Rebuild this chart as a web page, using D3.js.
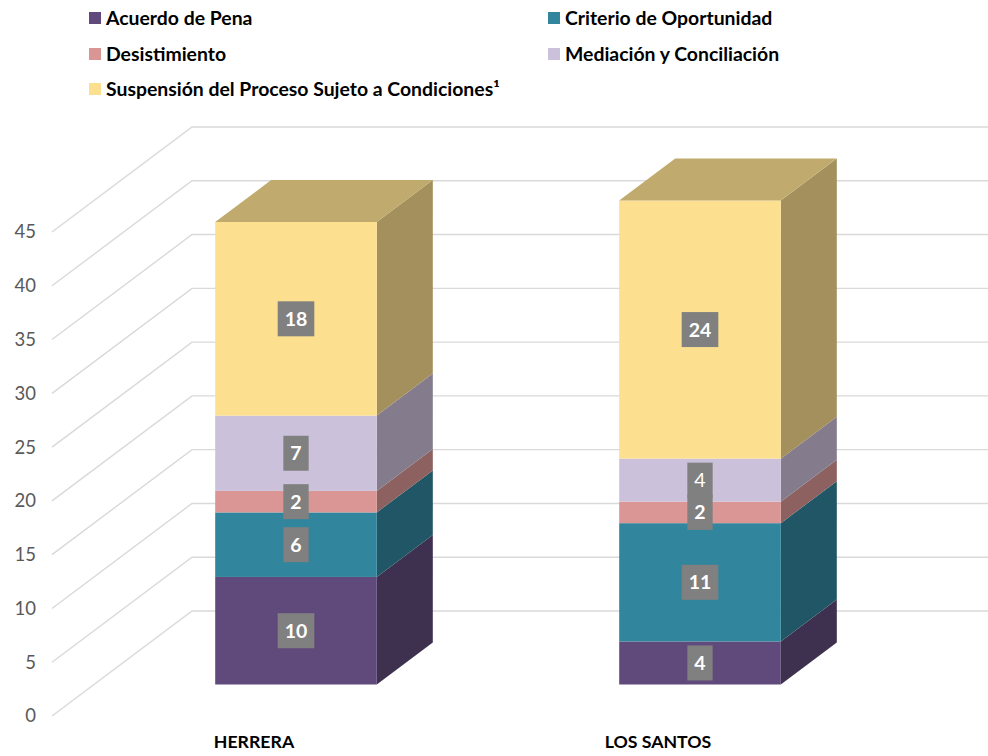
<!DOCTYPE html>
<html>
<head>
<meta charset="utf-8">
<script src="https://cdn.jsdelivr.net/npm/d3@7"></script>
<style>
  html, body { margin: 0; padding: 0; background: #ffffff; }
  svg { display: block; font-family: Lato, "Open Sans", sans-serif; }
</style>
</head>
<body>
<svg id="chart" width="988" height="756"></svg>
<script>
// ---- data ----
const categories = ["HERRERA", "LOS SANTOS"];
const seriesNames = [
  "Acuerdo de Pena",
  "Criterio de Oportunidad",
  "Desistimiento",
  "Mediación y Conciliación",
  "Suspensión del Proceso Sujeto a Condiciones¹"
];
const acuerdoDePena = [10, 4];
const criterioDeOportunidad = [6, 11];
const desistimiento = [2, 2];
const mediacionYConciliacion = [7, 4];
const suspensionDelProceso = [18, 24];
const yTicks = [0, 5, 10, 15, 20, 25, 30, 35, 40, 45];
const seriesColors = ["#604A7B", "#31859C", "#D99694", "#CCC1DA", "#FCE08F"];

const seriesValues = [acuerdoDePena, criterioDeOportunidad, desistimiento, mediacionYConciliacion, suspensionDelProceso];

// ---- layout ----
const svg = d3.select("#chart");
const W = 988;
const depthX = 140, depthY = 105;        // full floor depth
const barFront = 0.3, barBack = 0.7;      // bar position within depth

const x = d3.scaleBand().domain(categories).range([52, 860]).paddingInner(0.6).paddingOuter(0.3);
const y = d3.scaleLinear().domain([0, 45]).range([716, 232]);

// table of stacked rows
const table = categories.map((c, i) => {
  const row = { cat: c };
  seriesNames.forEach((s, j) => row[s] = seriesValues[j][i]);
  return row;
});
const stack = d3.stack().keys(seriesNames)(table);

// ---- gridlines (front diagonal + back wall) ----
const grid = svg.append("g");
yTicks.forEach(t => {
  const x0 = x.range()[0], y0 = y(t);
  grid.append("path")
    .attr("d", `M${x0},${y0} L${x0 + depthX},${y0 - depthY} L${W},${y0 - depthY}`)
    .attr("fill", "none")
    .attr("stroke", "#D9D9D9")
    .attr("stroke-width", 1.4);
});

// ---- y axis labels ----
const yAxis = d3.axisLeft(y).tickValues(yTicks).tickSize(0).tickPadding(16);
const ya = svg.append("g").attr("transform", `translate(${x.range()[0]},0)`).call(yAxis);
ya.select(".domain").remove();
ya.selectAll("text").attr("fill", "#595959").style("font-size", "18.5px").style("font-family", "Lato, 'Open Sans', sans-serif");

// ---- bars ----
function shade(hex, k) {
  const c = d3.rgb(hex);
  return d3.rgb(c.r * k, c.g * k, c.b * k).formatHex();
}
const fdx = depthX * barFront, fdy = depthY * barFront;
const bdx = depthX * (barBack - barFront), bdy = depthY * (barBack - barFront);

const bars = svg.append("g");
categories.forEach((c, ci) => {
  const xl = x(c) + fdx, xr = xl + x.bandwidth();
  stack.forEach((layer, si) => {
    const d = layer[ci];
    const yt = y(d[1]) - fdy, yb = y(d[0]) - fdy;
    const col = seriesColors[si];
    // right side face
    bars.append("path")
      .attr("d", `M${xr},${yb} L${xr + bdx},${yb - bdy} L${xr + bdx},${yt - bdy} L${xr},${yt} Z`)
      .attr("fill", shade(col, 0.645));
    // front face
    bars.append("rect")
      .attr("x", xl).attr("y", yt).attr("width", xr - xl).attr("height", yb - yt)
      .attr("fill", col);
    if (si === stack.length - 1) {
      bars.append("path")
        .attr("d", `M${xl},${yt} L${xl + bdx},${yt - bdy} L${xr + bdx},${yt - bdy} L${xr},${yt} Z`)
        .attr("fill", shade(col, 0.76));
    }
  });
});

// ---- data labels ----
const lightLabels = new Set(["LOS SANTOS|Mediación y Conciliación"]);
const labels = svg.append("g");
categories.forEach((c, ci) => {
  const cx = x(c) + fdx + x.bandwidth() / 2;
  stack.forEach((layer, si) => {
    const d = layer[ci];
    const cy = y((d[0] + d[1]) / 2) - fdy;
    const g = labels.append("g");
    const txt = g.append("text")
      .attr("x", cx).attr("y", cy)
      .attr("text-anchor", "middle")
      .attr("dy", "0.36em")
      .attr("fill", "#ffffff")
      .style("font-size", "19.5px")
      .style("font-weight", lightLabels.has(c + "|" + seriesNames[si]) ? "400" : "700")
      .text(d.data[seriesNames[si]]);
    const bb = txt.node().getBBox();
    g.insert("rect", "text")
      .attr("x", cx - bb.width / 2 - 7).attr("y", cy - 17.5)
      .attr("width", bb.width + 14).attr("height", 35)
      .attr("fill", "#808080");
  });
});

// ---- category labels ----
svg.append("g").selectAll("text").data(categories).join("text")
  .attr("x", d => x(d) + x.bandwidth() / 2)
  .attr("y", 748)
  .attr("text-anchor", "middle")
  .attr("fill", "#000000")
  .style("font-size", "17.7px")
  .style("font-weight", "700")
  .text(d => d);

// ---- legend ----
const legendPos = [[89, 18], [548, 18], [89, 54], [548, 54], [89, 89]];
const legend = svg.append("g");
seriesNames.forEach((s, i) => {
  const [lx, ly] = legendPos[i];
  legend.append("rect").attr("x", lx).attr("y", ly - 6).attr("width", 12).attr("height", 12).attr("fill", seriesColors[i]);
  legend.append("text").attr("x", lx + 17).attr("y", ly).attr("dy", "0.35em")
    .attr("fill", "#000000").style("font-size", "19.4px").style("font-weight", "700").text(s);
});
</script>
</body>
</html>
